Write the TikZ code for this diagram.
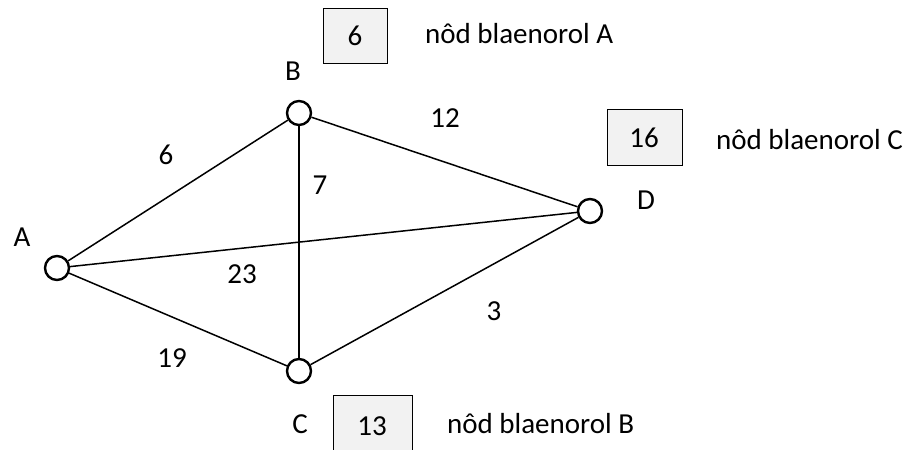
\documentclass[tikz,border=0pt]{standalone}
\usepackage{fontspec}
\setmainfont{Carlito}
\begin{document}
\begin{tikzpicture}[x=1pt,y=-1pt,
  vertex/.style={circle,draw,line width=2.4pt,minimum size=24pt,inner sep=0pt},
  edge/.style={line width=1.5pt},
  txt/.style={font=\fontsize{29}{34}\selectfont,inner sep=0pt},
  prevbox/.style={draw,line width=0.9pt,fill=gray!10}]
\useasboundingbox (0,0) rectangle (914,450);
% vertices
\node[vertex] (A) at (57,268) {};
\node[vertex] (B) at (299,113) {};
\node[vertex] (D) at (590,211) {};
\node[vertex] (C) at (299,371) {};
% vertex names
\node[txt] (lA) at (22,237) {A};
\node[txt] (lB) at (293,71) {B};
\node[txt] (lD) at (646,200) {D};
\node[txt] (lC) at (300,424) {C};
% edges
\draw[edge] (A) -- (B);
\draw[edge] (A) -- (D);
\draw[edge] (A) -- (C);
\draw[edge] (B) -- (C);
\draw[edge] (B) -- (D);
\draw[edge] (C) -- (D);
% weights
\node[txt] (w6) at (166,155) {6};
\node[txt] (w12) at (445,118) {12};
\node[txt] (w7) at (320,185) {7};
\node[txt] (w23) at (242,274) {23};
\node[txt] (w3) at (494,311) {3};
\node[txt] (w19) at (172,358) {19};
% previous-node boxes
\filldraw[prevbox] (323,8) rectangle (387,63);
\node[txt] (b6) at (355,36) {6};
\node[txt,anchor=west] (tA) at (425,34) {nôd blaenorol A};
\filldraw[prevbox] (607,109) rectangle (682,165);
\node[txt] (b16) at (644,138) {16};
\node[txt,anchor=west] (tC) at (716,140) {nôd blaenorol C};
\fill[gray!10] (333,395) rectangle (412,452);
\draw[line width=0.9pt] (333,452) -- (333,395) -- (412,395) -- (412,452);
\node[txt] (b13) at (372,426) {13};
\node[txt,anchor=west] (tB) at (447,424) {nôd blaenorol B};
\end{tikzpicture}
\end{document}
